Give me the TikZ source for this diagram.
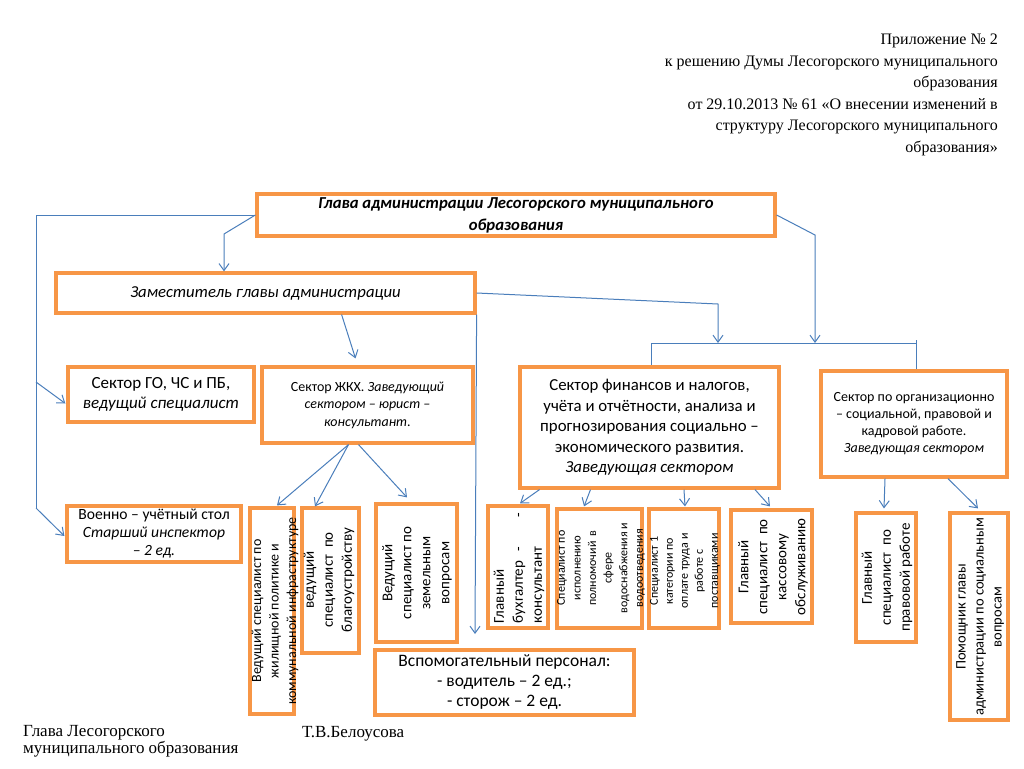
\documentclass[tikz,border=0pt]{standalone}
\usepackage{fontspec}
\setmainfont{Carlito}
\newfontfamily\timesf{Liberation Serif}
\usetikzlibrary{arrows.meta,calc}
\definecolor{boxorange}{HTML}{F79646}
\definecolor{lineblue}{HTML}{4A7EBB}
\newcommand\fsz[2]{\fontsize{#1}{#2}\selectfont}
\begin{document}
\begin{tikzpicture}[x=1pt,y=-1pt,
  box/.style={draw=boxorange, line width=3.2pt, fill=white, inner sep=0pt, align=center},
  rot/.style={rotate=90, align=center, inner sep=0pt},
  conn/.style={draw=lineblue, line width=1pt},
  arr/.style={conn, -{Straight Barb[length=7pt,width=10pt]}}]
\useasboundingbox (0,0) rectangle (1024,768);
\fill[white] (0,0) rectangle (1024,768);

% header
\node[anchor=north east, align=right, inner sep=0pt, font=\timesf\fsz{16}{21.5}] (hdr) at (998,34)
 {Приложение № 2\\к решению Думы Лесогорского муниципального\\образования\\от 29.10.2013 № 61 «О внесении изменений в\\структуру Лесогорского муниципального\\образования»};

% boxes with horizontal text
\node[box, minimum width=518pt, minimum height=42pt, font=\bfseries\itshape\fsz{16.7}{22}] (top) at (516,215)
 {Глава администрации Лесогорского муниципального\\образования};
\node[box, minimum width=419pt, minimum height=40pt, font=\itshape\fsz{16.7}{20}] (dep) at (265.5,293)
 {Заместитель главы администрации};
\node[box, minimum width=186pt, minimum height=55pt, font=\fsz{17}{20}] (go) at (161,394.5)
 {Сектор ГО, ЧС и ПБ,\\\textit{ведущий специалист}};
\node[box, minimum width=211pt, minimum height=76pt, font=\fsz{14}{17.5}] (zhkh) at (367.5,405)
 {Сектор ЖКХ. \textit{Заведующий}\\\textit{сектором – юрист –}\\\textit{консультант.}};
\node[box, minimum width=259pt, minimum height=121pt, font=\fsz{16.8}{20.5}] (fin) at (649.5,427.5)
 {Сектор финансов и налогов,\\учёта и отчётности, анализа и\\прогнозирования социально –\\экономического развития.\\\textit{Заведующая сектором}};
\node[box, minimum width=186pt, minimum height=106pt, font=\fsz{14}{17}] (org) at (914,424)
 {Сектор по организационно\\– социальной, правовой и\\кадровой работе.\\\textit{Заведующая сектором}};
\node[box, minimum width=174pt, minimum height=56pt, font=\fsz{15.6}{18}] (voen) at (154,534)
 {Военно – учётный стол\\\textit{Старший инспектор}\\\textit{– 2 ед.}};
\node[box, minimum width=259pt, minimum height=65pt, font=\fsz{17.5}{20}] (vsp) at (504.5,682.5)
 {Вспомогательный персонал:\\- водитель – 2 ед.;\\- сторож – 2 ед.};

% boxes for vertical text
\node[box, minimum width=44pt, minimum height=206pt] (zhil) at (272,611) {};
\node[box, minimum width=57pt, minimum height=145pt] (blag) at (330.5,580.5) {};
\node[box, minimum width=81pt, minimum height=138pt] (zem) at (416.5,573) {};
\node[box, minimum width=60pt, minimum height=122pt] (bux) at (518,567) {};
\node[box, minimum width=85pt, minimum height=119pt] (isp) at (599.5,568.5) {};
\node[box, minimum width=70pt, minimum height=119pt] (spec1) at (684,568.5) {};
\node[box, minimum width=81pt, minimum height=113pt] (kass) at (771.5,566.5) {};
\node[box, minimum width=60pt, minimum height=129pt] (prav) at (886,577.5) {};
\node[box, minimum width=58pt, minimum height=207pt] (pom) at (979,616.5) {};

% vertical texts
\node[rot, font=\fsz{14}{17.5}] (zhilt) at (275,611) {Ведущий специалист по\\жилищной политике и\\коммунальной инфраструктуре};
\node[rot, font=\fsz{15}{19}] (blagt) at (329,580) {ведущий\\специалист\ \ по\\благоустройству};
\node[rot, font=\fsz{15}{19}] (zemt) at (417,573) {Ведущий\\специалист по\\земельным\\вопросам};
\node[rot, align=left, font=\fsz{15}{19}] (buxt) at (519,568) {Главный\\\makebox[110pt][l]{бухгалтер\hspace{9pt}-\hfill-}\\консультант};
\node[rot, font=\fsz{12}{15.6}] (ispt) at (601,568) {Специалист по\\исполнению\\полномочий\ \ в\\сфере\\водоснабжения и\\водоотведения};
\node[rot, font=\fsz{12}{15}] (spec1t) at (685,571) {Специалист 1\\категории по\\оплате труда и\\работе с\\поставщиками};
\node[rot, font=\fsz{15}{19}] (kasst) at (773,567) {Главный\\специалист\ \ по\\кассовому\\обслуживанию};
\node[rot, font=\fsz{15}{19}] (pravt) at (887,577.5) {Главный\\специалист\ \ по\\правовой работе};
\node[rot, font=\fsz{14.5}{18}] (pomt) at (980,617) {Помощник главы\\администрации по социальным\\вопросам};

% footer
\node[anchor=north west, align=left, inner sep=0pt, font=\timesf\fsz{17}{15.5}] (sig) at (23,725)
 {Глава Лесогорского\\муниципального образования};
\node[anchor=base west, inner sep=0pt, font=\timesf\fsz{17}{20}] (nm) at (302,737) {Т.В.Белоусова};

% connectors
\coordinate (L1) at (36,215);
\coordinate (L2) at (36,382);
\coordinate (L3) at (36,508);
\coordinate (tA) at (224,234);
\coordinate (tB) at (815,235);
\coordinate (dA) at (718,304);
\coordinate (busL) at (651,343);
\coordinate (busR) at (916,343);
\coordinate (vT) at (475,634);

\draw[conn] (top.west) -- (L1) -- (L3);
\draw[arr] (L2) -- ($(go.west)+(-1,9)$);
\draw[arr] (L3) -- ($(voen.west)+(-1,2)$);
\draw[arr] (top.west) -- (tA) -- (tA |- dep.north);
\draw[arr] (top.east) -- (tB) -- (tB |- busL);
\draw[arr] (dep.east) -- (dA) -- (dA |- busL);
\draw[conn] (busL) -- (busR);
\draw[conn] (busL) -- (busL |- fin.north);
\draw[conn] ($(busR)+(0,-3)$) -- (busR |- org.north);
\draw[arr] (dep.south east) -- (vT);
\draw[arr] ($(dep.south east)+(-135,0)$) -- ($(zhkh.north)+(-12,-7)$);
\draw[arr] ($(zhkh.south)+(-19,0)$) -- ($(zhil.north)+(5,-1)$);
\draw[arr] ($(zhkh.south)+(-19,0)$) -- ($(blag.north)+(-15.5,0)$);
\draw[arr] ($(zhkh.south)+(-9,0)$) -- ($(zem.north)+(-9.5,-5)$);
\draw[arr] ($(fin.south)+(-110,0)$) -- ($(bux.north)+(2,-1)$);
\draw[arr] ($(fin.south)+(-59,0)$) -- ($(isp.north)+(-15.5,-1)$);
\draw[arr] ($(fin.south)+(34.5,0)$) -- ($(spec1.north)+(1,-1)$);
\draw[arr] ($(fin.south)+(105.5,0)$) -- ($(kass.north)+(-1.5,-2)$);
\draw[arr] ($(org.south)+(-29,0)$) -- ($(prav.north)+(-2,-3)$);
\draw[arr] ($(org.south)+(34,0)$) -- ($(pom.north)+(-1,-3)$);
\end{tikzpicture}
\end{document}
